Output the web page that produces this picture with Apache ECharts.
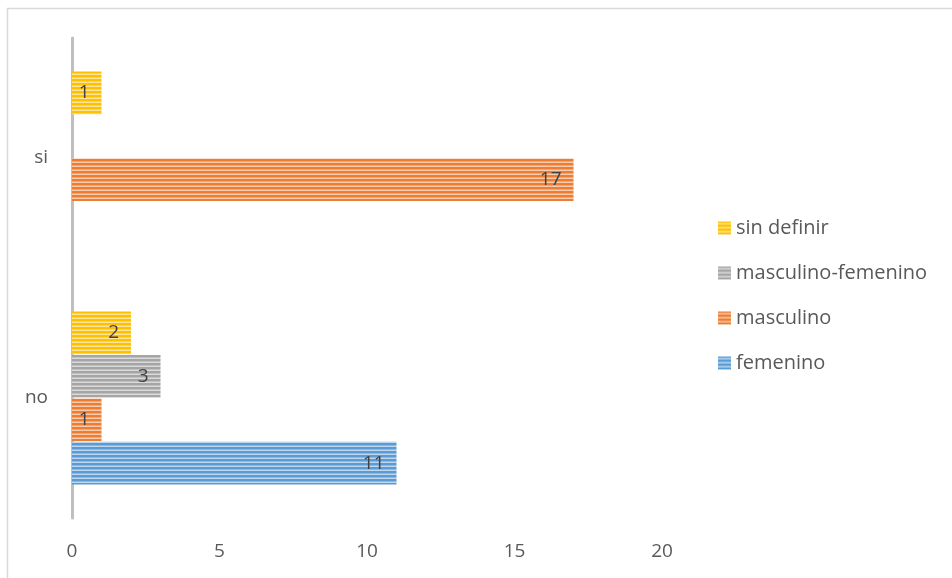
<!DOCTYPE html>
<html><head><meta charset="utf-8">
<script src="https://cdn.jsdelivr.net/npm/echarts@6/dist/echarts.min.js"></script>
<style>html,body{margin:0;padding:0;background:#fff}#c{width:952px;height:578px}</style>
</head><body><div id="c"></div>
<script>
const categories = ['no', 'si'];
const seriesNames = ['sin definir', 'masculino-femenino', 'masculino', 'femenino'];
const sinDefinir = [2, 1];
const masculinoFemenino = [3, null];
const masculino = [1, 17];
const femenino = [11, null];
const xTicks = [0, 5, 10, 15, 20];
const legendOrder = ['sin definir', 'masculino-femenino', 'masculino', 'femenino'];

const baseColors = ['#ffc000', '#a5a5a5', '#ed7d31', '#5b9bd5'];
const lightColors = ['#ffe699', '#dbdbdb', '#f8cbad', '#bdd7ee'];

function stripe(base, light) {
  const cv = document.createElement('canvas');
  cv.width = 4; cv.height = 4;
  const g = cv.getContext('2d');
  g.fillStyle = base; g.fillRect(0, 0, 4, 4);
  g.fillStyle = light; g.fillRect(0, 2, 4, 1);
  g.globalAlpha = 0.5; g.fillRect(0, 1, 4, 1);
  return { image: cv, repeat: 'repeat' };
}

const values = [sinDefinir, masculinoFemenino, masculino, femenino];
const font = '"Open Sans", "Noto Sans", sans-serif';

const chart = echarts.init(document.getElementById('c'), null, { renderer: 'canvas' });
chart.setOption({
  animation: false,
  backgroundColor: '#fff',
  graphic: [{
    type: 'rect', left: 5, top: 6, shape: { width: 1000, height: 600 },
    style: { fill: 'none', stroke: '#d9d9d9', lineWidth: 1.5 }, silent: true, z: -1
  }],
  grid: { left: 72, right: 290, top: 38, bottom: 60, containLabel: false },
  legend: {
    data: legendOrder.map((n) => ({ name: n, itemStyle: { color: stripe(baseColors[seriesNames.indexOf(n)], lightColors[seriesNames.indexOf(n)]) } })),
    orient: 'vertical', left: 718, top: 218, itemGap: 25, padding: 0,
    itemWidth: 13, itemHeight: 13,
    textStyle: { fontFamily: font, fontSize: 20, color: '#595959' },
    icon: 'rect'
  },
  xAxis: {
    type: 'value', min: 0, max: 20, interval: 5,
    axisLine: { show: false }, axisTick: { show: false }, splitLine: { show: false },
    axisLabel: { fontFamily: font, fontSize: 19, color: '#595959', margin: 24,
      formatter: (v) => xTicks.includes(v) ? String(v) : '' }
  },
  yAxis: {
    type: 'category', data: categories,
    axisLine: { show: true, lineStyle: { color: '#bfbfbf', width: 3 } },
    axisTick: { show: false },
    axisLabel: { fontFamily: font, fontSize: 19, color: '#595959', margin: 24 }
  },
  series: seriesNames.map((name, i) => ({
    name, type: 'bar', data: values[i],
    barCategoryGap: '28%', barGap: '2%',
    itemStyle: { color: stripe(baseColors[i], lightColors[i]) },
    label: { show: true, position: 'insideRight', distance: 12,
      fontFamily: font, fontSize: 19, color: '#404040' }
  }))
});
</script></body></html>
